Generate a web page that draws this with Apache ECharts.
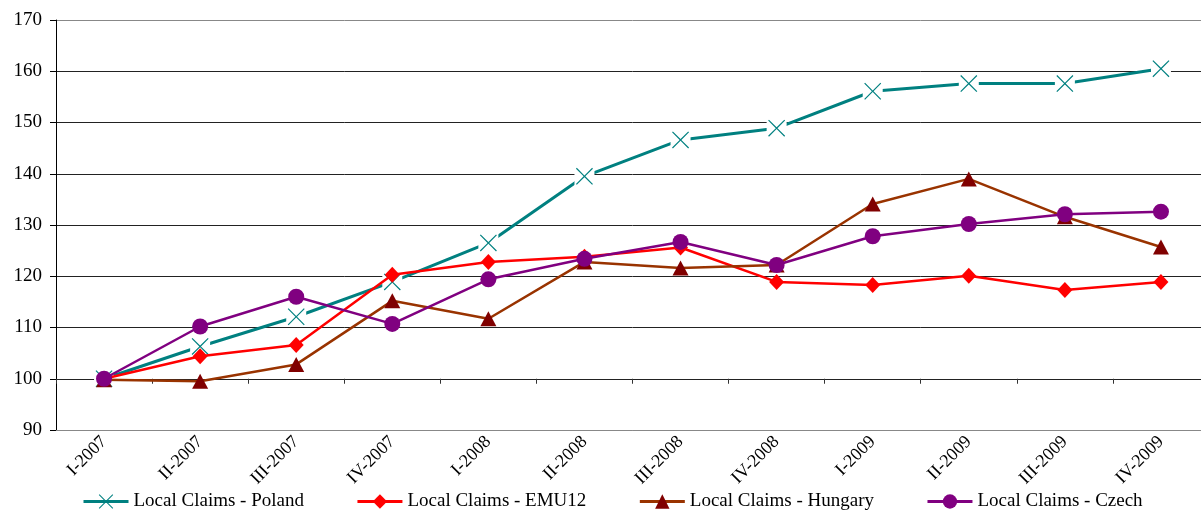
<!DOCTYPE html>
<html>
<head>
<meta charset="utf-8">
<script src="https://cdn.jsdelivr.net/npm/echarts@6/dist/echarts.min.js"></script>
<style>html,body{margin:0;padding:0;background:#fff;overflow:hidden}#c{width:1209px;height:511px}</style>
</head>
<body>
<div id="c"></div>
<script>
const categories = ['I-2007','II-2007','III-2007','IV-2007','I-2008','II-2008','III-2008','IV-2008','I-2009','II-2009','III-2009','IV-2009'];
const poland  = [100, 106.3, 112.1, 118.9, 126.5, 139.5, 146.6, 148.9, 156.1, 157.6, 157.6, 160.5];
const emu12   = [100, 104.4, 106.6, 120.3, 122.8, 123.8, 125.6, 118.9, 118.3, 120.1, 117.3, 118.9];
const hungary = [99.8, 99.5, 102.8, 115.2, 111.7, 122.8, 121.6, 122.2, 134.1, 139.0, 131.6, 125.7];
const czech   = [100, 110.2, 116.0, 110.7, 119.4, 123.4, 126.7, 122.2, 127.8, 130.2, 132.1, 132.6];
const yTicks = {min: 90, max: 170, interval: 10};

const FONT = '"Liberation Serif", "Times New Roman", serif';
const X_PATH = 'path://M0,1L1,0L10,9L19,0L20,1L11,10L20,19L19,20L10,11L1,20L0,19L9,10Z';

const chart = echarts.init(document.getElementById('c'), null, {renderer: 'canvas'});
const gridColors = ['#888','#222','#222','#222','#222','#222','#222','#222','#888'];
const legendNames = ['Local Claims - Poland','Local Claims - EMU12','Local Claims - Hungary','Local Claims - Czech'];
chart.setOption({
  animation: false,
  backgroundColor: '#fff',
  grid: {left: 56, top: 20, right: 0, height: 410},
  legend: {
    top: 487, left: 77,
    itemWidth: 45, itemHeight: 18, itemGap: 52,
    textStyle: {fontFamily: FONT, fontSize: 19, color: '#000'},
    data: legendNames.map(n => ({name: n, lineStyle: {width: 3}}))
  },
  xAxis: [{
    type: 'category', data: categories, boundaryGap: true,
    axisLine: {show: true, lineStyle: {color: '#888', width: 1}},
    axisTick: {show: false},
    axisLabel: {rotate: 45, interval: 0, margin: 9, fontFamily: FONT, fontSize: 18, color: '#000'},
    splitLine: {show: false}
  }, {
    type: 'category', data: categories, boundaryGap: true, position: 'bottom', offset: -51.25,
    axisLine: {show: false},
    axisTick: {show: true, length: 5, lineStyle: {color: '#333'}},
    axisLabel: {show: false},
    splitLine: {show: false}
  }],
  yAxis: {
    type: 'value', min: yTicks.min, max: yTicks.max, interval: yTicks.interval,
    axisLine: {show: true, lineStyle: {color: '#000', width: 1}},
    axisTick: {show: true, length: 6, lineStyle: {color: '#000'}},
    axisLabel: {margin: 14, fontFamily: FONT, fontSize: 19, color: '#000'},
    splitLine: {show: true, lineStyle: {color: gridColors, width: 1}}
  },
  series: [
    {
      name: 'Local Claims - Poland', type: 'line', data: poland, z: 2,
      symbol: X_PATH, symbolSize: 17,
      lineStyle: {color: '#008080', width: 3},
      itemStyle: {color: '#008080'}
    },
    {
      name: 'poland-halo', type: 'line', data: poland, z: 3,
      symbol: 'rect', symbolSize: 20, showAllSymbol: true,
      lineStyle: {width: 0, opacity: 0},
      itemStyle: {color: '#fff'}, silent: true
    },
    {
      name: 'poland-mark', type: 'line', data: poland, z: 4,
      symbol: X_PATH, symbolSize: 17, showAllSymbol: true,
      lineStyle: {width: 0, opacity: 0},
      itemStyle: {color: '#008080'}, silent: true
    },
    {
      name: 'Local Claims - EMU12', type: 'line', data: emu12, z: 5,
      symbol: 'diamond', symbolSize: [15, 16],
      lineStyle: {color: '#ff0000', width: 2.5},
      itemStyle: {color: '#ff0000'}
    },
    {
      name: 'Local Claims - Hungary', type: 'line', data: hungary, z: 6,
      symbol: 'triangle', symbolSize: [16, 15],
      lineStyle: {color: '#993300', width: 2.5},
      itemStyle: {color: '#800000'}
    },
    {
      name: 'Local Claims - Czech', type: 'line', data: czech, z: 7,
      symbol: 'circle', symbolSize: 16,
      lineStyle: {color: '#800080', width: 2.5},
      itemStyle: {color: '#800080'}
    }
  ]
});
</script>
</body>
</html>
